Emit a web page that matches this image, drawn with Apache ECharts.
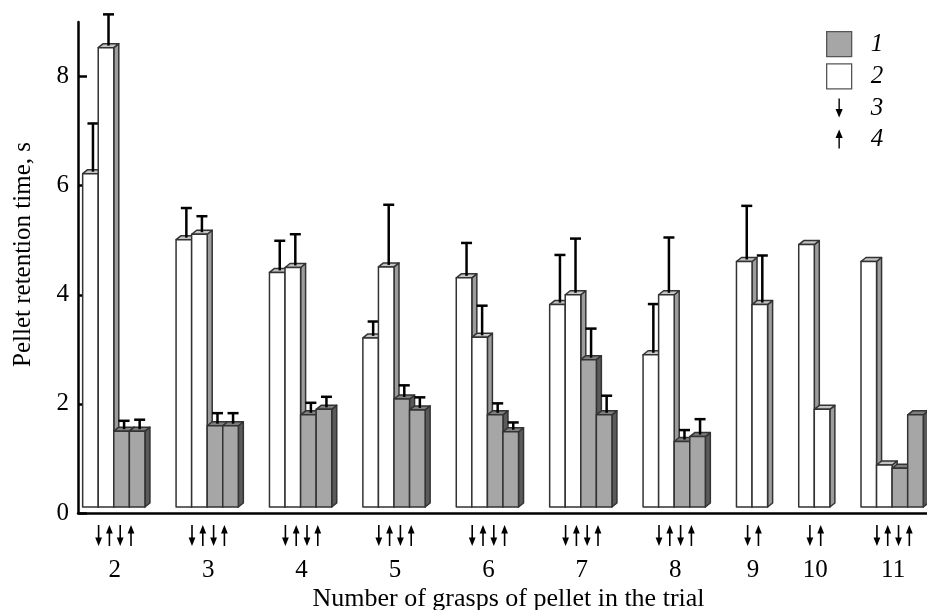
<!DOCTYPE html>
<html>
<head>
<meta charset="utf-8">
<script src="https://cdn.jsdelivr.net/npm/echarts@6/dist/echarts.min.js"></script>
<style>
html,body{margin:0;padding:0;background:#fff;}
#chart{width:927px;height:610px;}
</style>
</head>
<body>
<div id="chart"></div>
<script>
// ---- data ----
const groupLabels = ['2', '3', '4', '5', '6', '7', '8', '9', '10', '11'];
const barValues = [
  [6.22, 8.53, 1.50, 1.50],
  [5.01, 5.11, 1.60, 1.60],
  [4.41, 4.50, 1.80, 1.90],
  [3.21, 4.51, 2.09, 1.89],
  [4.31, 3.22, 1.80, 1.49],
  [3.82, 4.00, 2.81, 1.80],
  [2.90, 4.00, 1.31, 1.40],
  [4.61, 3.82],
  [4.92, 1.90],
  [4.61, 0.88, 0.82, 1.80]
];
const barErrors = [
  [0.92, 0.61, 0.19, 0.21],
  [0.58, 0.33, 0.23, 0.23],
  [0.58, 0.61, 0.22, 0.23],
  [0.30, 1.14, 0.25, 0.23],
  [0.64, 0.58, 0.21, 0.17],
  [0.91, 1.03, 0.57, 0.35],
  [0.93, 1.05, 0.21, 0.32],
  [1.02, 0.90],
  [0, 0],
  [0, 0, 0, 0]
];
// legend kind of each bar: '1' = grey bar, '2' = white bar
const barKinds = [
  ['2', '2', '1', '1'],
  ['2', '2', '1', '1'],
  ['2', '2', '1', '1'],
  ['2', '2', '1', '1'],
  ['2', '2', '1', '1'],
  ['2', '2', '1', '1'],
  ['2', '2', '1', '1'],
  ['2', '2'],
  ['2', '2'],
  ['2', '2', '1', '1']
];
// arrow under each bar: '3' = down arrow, '4' = up arrow
const barArrows = [
  ['3', '4', '3', '4'],
  ['3', '4', '3', '4'],
  ['3', '4', '3', '4'],
  ['3', '4', '3', '4'],
  ['3', '4', '3', '4'],
  ['3', '4', '3', '4'],
  ['3', '4', '3', '4'],
  ['3', '4'],
  ['3', '4'],
  ['3', '4', '3', '4']
];
const yTicks = [0, 2, 4, 6, 8];
const legendNames = ['1', '2', '3', '4'];
const xTitle = 'Number of grasps of pellet in the trial';
const yTitle = 'Pellet retention time, s';

// ---- layout / style constants ----
const GAP_SLOTS = 2;            // empty bar-widths between groups
const DX = 5, DY = 4, LIFT = 6; // pseudo-3D depth
const EDGE = '#333';
const SERIF = '"Liberation Serif", "Times New Roman", serif';
const FS = 25;

// build slot-based data
const whiteData = [], greyData = [], downData = [], upData = [], labelData = [];
let slot = 0;
barValues.forEach((vals, g) => {
  const first = slot;
  vals.forEach((v, k) => {
    const item = [slot, v, barErrors[g][k]];
    (barKinds[g][k] === '1' ? greyData : whiteData).push(item);
    slot++;
  });
  const center = (first + slot - 1) / 2;
  labelData.push([center, 0, g]);
  barArrows[g].forEach((a, k) => {
    const it = [center, 0, k, vals.length];
    (a === '3' ? downData : upData).push(it);
  });
  slot += GAP_SLOTS;
});
const lastSlot = slot - GAP_SLOTS - 1;

function barRenderer(front, top, side) {
  return function (params, api) {
    const x = api.value(0), v = api.value(1), e = api.value(2);
    const p = api.coord([x - 0.5, v]);
    const q = api.coord([x + 0.5, 0]);
    const L = p[0], R = q[0], T = p[1], B = q[1] - LIFT;
    const st = (f) => ({ fill: f, stroke: EDGE, lineWidth: 1.5, lineJoin: 'round' });
    const children = [
      { type: 'polygon', shape: { points: [[R, T], [R + DX, T - DY], [R + DX, B - DY], [R, B]] }, style: st(side) },
      { type: 'polygon', shape: { points: [[L, T], [L + DX, T - DY], [R + DX, T - DY], [R, T]] }, style: st(top) },
      { type: 'rect', shape: { x: L, y: T, width: R - L, height: B - T }, style: st(front) }
    ];
    if (e > 0) {
      const ey = api.coord([x, v + e])[1];
      const cx = (L + R) / 2 + DX / 2, cy = T - DY / 2;
      children.push({ type: 'line', shape: { x1: cx, y1: cy, x2: cx, y2: ey }, style: { stroke: '#000', lineWidth: 2.5 } });
      children.push({ type: 'line', shape: { x1: cx - 5.5, y1: ey, x2: cx + 5.5, y2: ey }, style: { stroke: '#000', lineWidth: 2.5 } });
    }
    return { type: 'group', children };
  };
}

function arrowRenderer(down) {
  return function (params, api) {
    const c = api.coord([api.value(0), 0]);
    const k = api.value(2), n = api.value(3);
    const x = c[0] + 1 + (k - (n - 1) / 2) * 10.8;
    const y0 = c[1] + 12, y1 = c[1] + 33, hh = 8.5, hw = 3.4;
    let line, head;
    if (down) {
      line = { x1: x, y1: y0, x2: x, y2: y1 - hh + 1 };
      head = [[x - hw, y1 - hh], [x + hw, y1 - hh], [x, y1]];
    } else {
      line = { x1: x, y1: y0 + hh - 1, x2: x, y2: y1 };
      head = [[x - hw, y0 + hh], [x + hw, y0 + hh], [x, y0]];
    }
    return {
      type: 'group', children: [
        { type: 'line', shape: line, style: { stroke: '#000', lineWidth: 1.6 } },
        { type: 'polygon', shape: { points: head }, style: { fill: '#000' } }
      ]
    };
  };
}

function labelRenderer(params, api) {
  const c = api.coord([api.value(0), 0]);
  return {
    type: 'text',
    x: c[0] + 1, y: c[1] + 57,
    style: {
      text: groupLabels[api.value(2)], font: FS + 'px ' + SERIF,
      fill: '#000', align: 'center', verticalAlign: 'middle'
    }
  };
}

const downIcon = 'path://M0,0L0.01,0Z M2.3,3 L3.7,3 L3.7,13.5 L6.6,13.5 L3,22 L-0.6,13.5 L2.3,13.5 Z M0,25 L0.01,25Z';
const upIcon = 'path://M0,0L0.01,0Z M3,3 L6.6,11.5 L3.7,11.5 L3.7,22 L2.3,22 L2.3,11.5 L-0.6,11.5 Z M0,25 L0.01,25Z';

const chart = echarts.init(document.getElementById('chart'), null, { renderer: 'canvas' });
chart.setOption({
  animation: false,
  backgroundColor: '#fff',
  grid: { left: 78, right: 0, top: 22, bottom: 97, containLabel: false, outerBoundsMode: 'none' },
  legend: {
    orient: 'vertical', left: 826, top: 31, padding: 0,
    itemWidth: 25, itemHeight: 25, itemGap: 6,
    selectedMode: false,
    textStyle: { fontFamily: SERIF, fontStyle: 'italic', fontSize: FS, color: '#000', padding: [0, 0, 0, 14] },
    data: [
      { name: legendNames[0], icon: 'rect', itemStyle: { color: '#a6a6a6', borderColor: '#555', borderWidth: 1.3 } },
      { name: legendNames[1], icon: 'rect', itemStyle: { color: '#fff', borderColor: '#555', borderWidth: 1.3 } },
      { name: legendNames[2], icon: downIcon, itemStyle: { color: '#000', borderWidth: 0 } },
      { name: legendNames[3], icon: upIcon, itemStyle: { color: '#000', borderWidth: 0 } }
    ]
  },
  xAxis: {
    type: 'value', min: -0.8, max: lastSlot + 0.74,
    name: xTitle, nameLocation: 'middle', nameGap: 73,
    nameTextStyle: { fontFamily: SERIF, fontSize: 26, color: '#000', padding: [0, 0, 0, 12] },
    axisLine: { show: true, onZero: false, lineStyle: { color: '#000', width: 2.5 } },
    axisTick: { show: false }, axisLabel: { show: false }, splitLine: { show: false }
  },
  yAxis: {
    type: 'value', min: 0, max: 9,
    name: yTitle, nameLocation: 'middle', nameGap: 42,
    nameTextStyle: { fontFamily: SERIF, fontSize: 25, color: '#000', padding: [0, 0, 0, 26] },
    axisLine: { show: true, onZero: false, lineStyle: { color: '#000', width: 2.5 } },
    axisTick: { show: true, inside: true, length: 9, customValues: yTicks, lineStyle: { color: '#000', width: 2.5 } },
    axisLabel: { show: true, customValues: yTicks, margin: 9, fontFamily: SERIF, fontSize: FS, color: '#000', padding: [6, 0, 0, 0] },
    splitLine: { show: false }
  },
  series: [
    { name: legendNames[1], type: 'custom', renderItem: barRenderer('#ffffff', '#c4c4c4', '#9c9c9c'), data: whiteData, itemStyle: { color: '#fff' }, clip: false, z: 2 },
    { name: legendNames[0], type: 'custom', renderItem: barRenderer('#a6a6a6', '#7e7e7e', '#5a5a5a'), data: greyData, itemStyle: { color: '#a6a6a6' }, clip: false, z: 2 },
    { name: legendNames[2], type: 'custom', renderItem: arrowRenderer(true), data: downData, itemStyle: { color: '#000' }, clip: false, silent: true },
    { name: legendNames[3], type: 'custom', renderItem: arrowRenderer(false), data: upData, itemStyle: { color: '#000' }, clip: false, silent: true },
    { name: 'groups', type: 'custom', renderItem: labelRenderer, data: labelData, clip: false, silent: true }
  ]
});
</script>
</body>
</html>
